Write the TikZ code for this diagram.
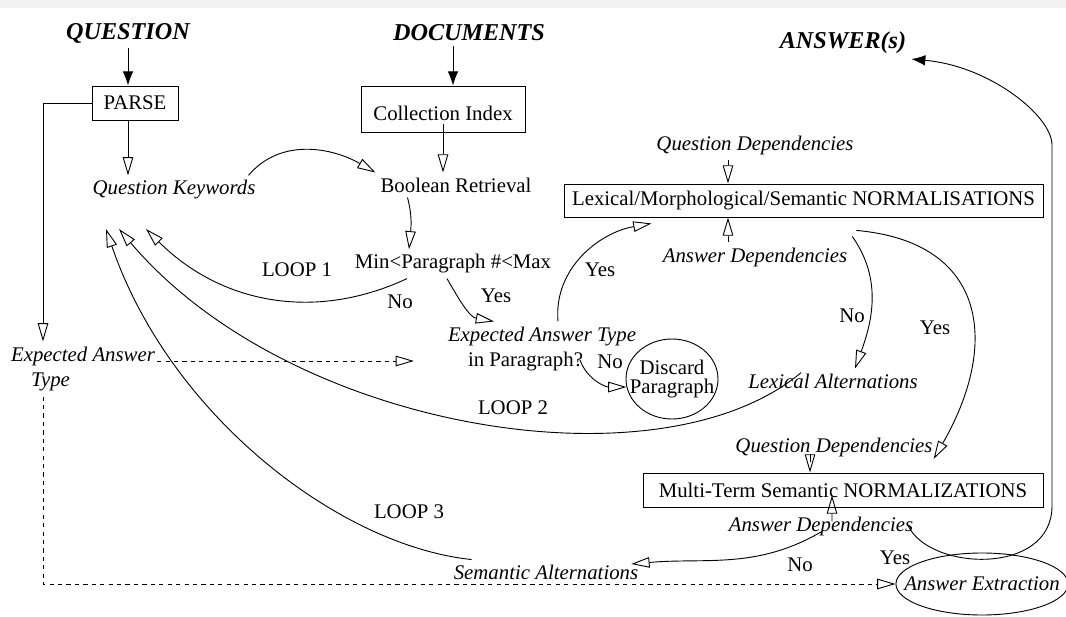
\documentclass[tikz,border=0pt]{standalone}
\usepackage{fontspec}
\setmainfont{Liberation Serif}
\usetikzlibrary{arrows.meta,shapes.geometric,calc}

\begin{document}
\begin{tikzpicture}[x=0.25mm, y=0.25mm, line width=0.65pt,
    every node/.style={font=\fontsize{14.8}{18.4}\selectfont},
    title/.style={font=\fontsize{17.2}{20}\selectfont\bfseries\itshape},
    ital/.style={font=\fontsize{14.8}{18.4}\selectfont\itshape},
    box/.style={draw, rectangle, inner sep=2pt},
    open/.style={-{Triangle[open,length=13pt,width=7.5pt]}},
    shut/.style={-{Latex[length=10pt,width=7.5pt]}}]
    \useasboundingbox (0,0) rectangle (1066,616);
    \fill[black!5] (0,608) rectangle (1066,616);

    \node[title] (question) at (128,583) {QUESTION};
    \node[title] (documents) at (469,583) {DOCUMENTS};
    \node[title] (answers) at (843,573) {ANSWER(s)};

    \node[box, minimum width=21.5mm, minimum height=8.5mm] (parse) at (135,513) {PARSE};
    \node[box, minimum width=41mm, minimum height=11.5mm, text height=16pt, text depth=0pt]
        (index) at (443,507) {Collection Index};
    \node[ital] (keywords) at (174,426) {Question Keywords};
    \node (boolean) at (456,431) {Boolean Retrieval};
    \node (minmax) at (453,352) {Min<Paragraph \#<Max};
    \node[align=left] (eat) at (542,267) {\textit{Expected Answer Type}\\\hspace*{5mm}in Paragraph?};
    \node[draw, ellipse, minimum width=23mm, minimum height=20mm, inner xsep=-8pt, inner ysep=0pt,
        align=center, font=\fontsize{14.8}{13.5}\selectfont] (discard) at (672,237) {Discard\\Paragraph};
    \node[ital, align=left] (eatype) at (83,247) {Expected Answer\\\hspace*{5mm}Type};

    \node[box, minimum width=119.75mm, minimum height=8.25mm] (lexnorm) at (803.5,415.5)
        {Lexical/Morphological/Semantic NORMALISATIONS};
    \node[ital] (qdep1) at (755,471) {Question Dependencies};
    \node[ital] (adep1) at (755,359) {Answer Dependencies};
    \node[ital] (lexalt) at (833,235) {Lexical Alternations};
    \node[ital] (qdep2) at (834,169) {Question Dependencies};
    \node[box, minimum width=100mm, minimum height=8.5mm] (mtnorm) at (843,126)
        {Multi-Term Semantic NORMALIZATIONS};
    \node[ital] (adep2) at (821,90) {Answer Dependencies};
    \node[ital] (semalt) at (546,44) {Semantic Alternations};
    \node[draw, ellipse, ital, minimum width=42mm, minimum height=15.5mm, inner xsep=-12pt, inner ysep=0pt]
        (extract) at (982,32) {Answer Extraction};

    \node (loop1) at (297,346) {LOOP 1};
    \node (loop2) at (513,208) {LOOP 2};
    \node (loop3) at (409,104) {LOOP 3};
    \node (no1) at (400,314) {No};
    \node (yes1) at (496,320) {Yes};
    \node (yes2) at (600,346) {Yes};
    \node (no2) at (610,254) {No};
    \node (no3) at (852,300) {No};
    \node (yes3) at (935,288) {Yes};
    \node (no4) at (800,51) {No};
    \node (yes4) at (895,58) {Yes};

    \draw[shut] (question.south) to (question.south |- parse.north);
    \draw[shut] ([xshift=-4mm]documents.south) to ([xshift=-4mm]documents.south |- index.north);
    \draw[open] ([xshift=-1.75mm]parse.south) to ([xshift=-1.75mm]parse.south |- keywords.north);
    \draw[open] (parse.west) -| ([xshift=-10mm]eatype.north);
    \draw[open] ([yshift=2mm]index.south) to (index.south |- boolean.north);
    \draw[open] ([xshift=-3mm]keywords.north east) to[out=50, in=150] (boolean.north west);
    \draw[open] ([xshift=8mm]boolean.south west) to[out=-75, in=85] ([xshift=-11mm]minmax.north);

    % loop 1
    \draw[open] ([xshift=-11.5mm]minmax.south) to[out=205, in=-45] ($(keywords)+(-28,-39)$);
    \draw[open] ([xshift=-1.5mm]minmax.south) to[out=-60, in=170] ([xshift=-12mm]eat.north);
    \draw[open] ([xshift=4mm]eat.north) to[out=95, in=190] ([xshift=-38mm,yshift=-1.5mm]lexnorm.south);
    \draw[open] ($(eat)+(38,-11)$) to[out=-70, in=180] (discard.190);
    \draw[open, dashed] ($(eatype.east)+(-3,8)$) to ($(eat.west)+(-29,-12)$);
    \draw[open, dashed] ([xshift=-10mm]eatype.south) |- (extract.west);

    % loop 2 and loop 3
    \draw[open] ($(lexalt.north west)+(58,-4)$) .. controls (660,125) and (290,185) .. ($(keywords)+(-55,-39)$);
    \draw[open] ($(semalt.north west)+(23,0)$) .. controls (340,70) and (170,200) .. ($(keywords)+(-68,-39)$);

    \draw[open] ([xshift=-6.75mm]qdep1.south) to ([xshift=-6.75mm]qdep1.south |- lexnorm.north);
    \draw[open] ([xshift=-6.75mm]adep1.north) to ([xshift=-6.75mm]adep1.north |- lexnorm.south);
    \draw[open] ([yshift=1.5mm]adep1.north east) to[out=-55, in=70] ([xshift=5.5mm]lexalt.north);
    \draw[open] ([xshift=1mm,yshift=3mm]adep1.north east) to[out=-5, in=60, looseness=1.4]
        ([xshift=-1mm,yshift=-3mm]qdep2.east);

    \draw[open] ([xshift=-6mm]qdep2.south) to ([xshift=-6mm]qdep2.south |- mtnorm.north);
    \draw[open] ([xshift=2.75mm,yshift=-2.5mm]adep2.north) to ([xshift=-2.75mm,yshift=3mm]mtnorm.south);
    \draw[open] ([yshift=-1.5mm]adep2.center) to[out=210, in=5] ([xshift=-3mm,yshift=2mm]semalt.east);
    \draw[shut] ([xshift=-2.5mm]adep2.east) .. controls (930,45) and (1052,40) .. (1052,110)
        -- (1052,471) .. controls (1052,500) and (990,550) .. (answers.south east);
\end{tikzpicture}
\end{document}
